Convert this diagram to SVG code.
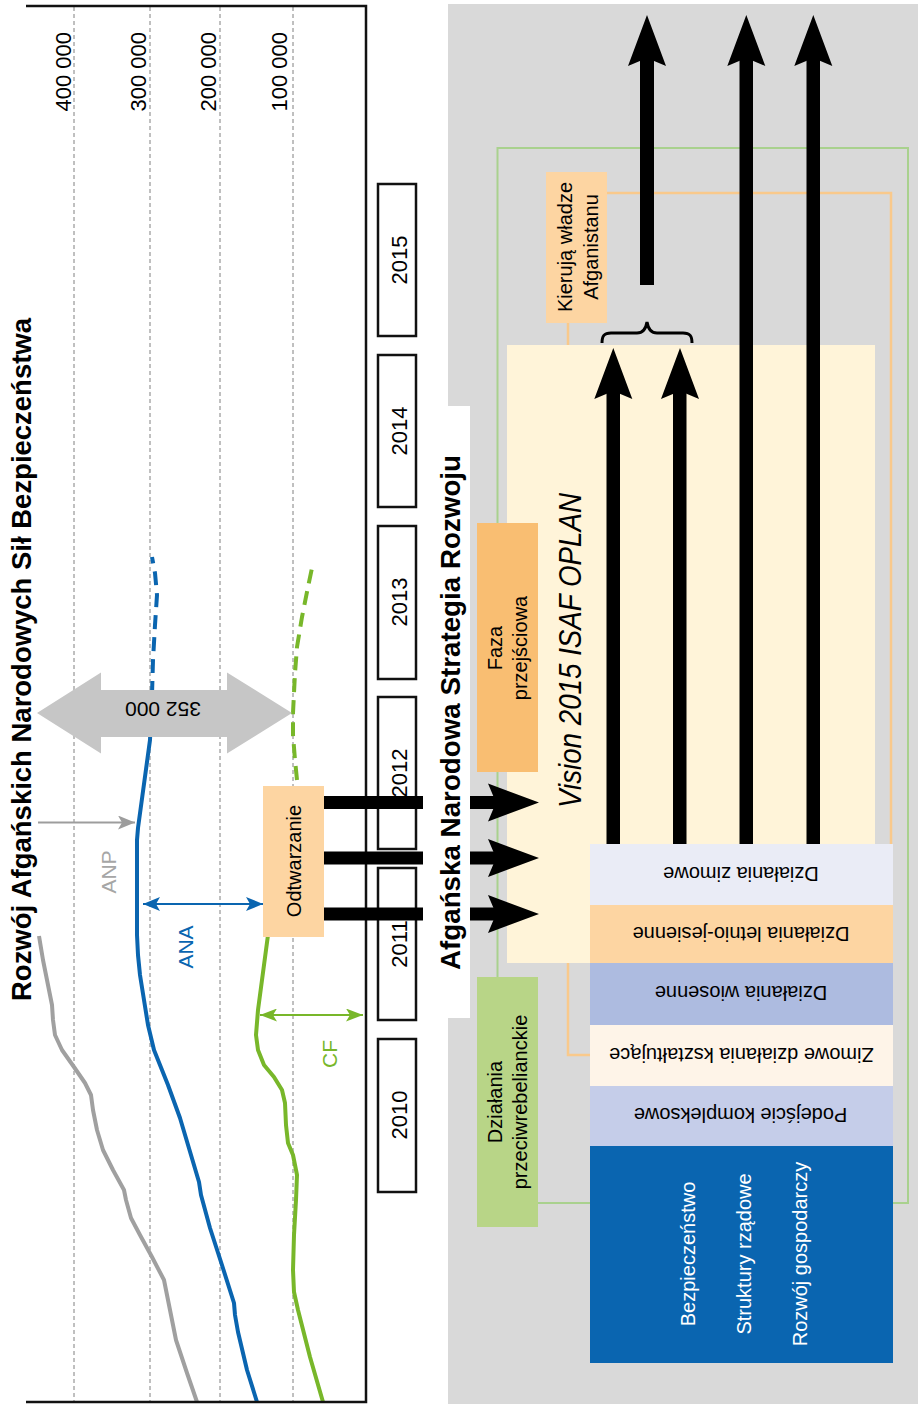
<svg xmlns="http://www.w3.org/2000/svg" width="918" height="1404" viewBox="0 0 918 1404">
<style>
text{font-family:"Liberation Sans",Arial,sans-serif;}
.lbl{font-size:22px;fill:#000;}
.box{font-size:20px;fill:#000;}
.yr{fill:#fff;stroke:#111;stroke-width:2.5;}
.grid{stroke:#808080;stroke-width:1;stroke-dasharray:4 3;fill:none;}
.curve{fill:none;stroke-width:4;stroke-linejoin:round;stroke-linecap:butt;}
.dash{stroke-dasharray:14 8;}
.thick{fill:#000;}
</style>
<defs>
<path id="head" d="M0,0 L19,51 L0,43 L-19,51 Z"/>
<marker id="mGray" viewBox="0 0 17 14" refX="17" refY="7" markerWidth="17" markerHeight="14" markerUnits="userSpaceOnUse" orient="auto-start-reverse"><path d="M0,0 L17,7 L0,14 L4,7 Z" fill="#9d9d9d"/></marker>
<marker id="mBlue" viewBox="0 0 17 14" refX="17" refY="7" markerWidth="17" markerHeight="14" markerUnits="userSpaceOnUse" orient="auto-start-reverse"><path d="M0,0 L17,7 L0,14 L4,7 Z" fill="#0a65b0"/></marker>
<marker id="mGreen" viewBox="0 0 17 13" refX="17" refY="6.5" markerWidth="17" markerHeight="13" markerUnits="userSpaceOnUse" orient="auto-start-reverse"><path d="M0,0 L17,6.5 L0,13 L4,6.5 Z" fill="#78b72a"/></marker>
</defs>
<rect width="918" height="1404" fill="#fff"/>

<!-- right panel background -->
<rect id="panel-bg" x="448" y="4" width="470" height="1400" fill="#d9d9d9"/>

<!-- chart grid -->
<g id="grid">
<line class="grid" x1="74" y1="7" x2="74" y2="1401"/>
<line class="grid" x1="150" y1="7" x2="150" y2="1401"/>
<line class="grid" x1="220" y1="7" x2="220" y2="1401"/>
<line class="grid" x1="293" y1="7" x2="293" y2="1401"/>
</g>
<g id="axis-labels" class="lbl">
<text transform="translate(71,32) rotate(-90)" text-anchor="end">400 000</text>
<text transform="translate(146,32) rotate(-90)" text-anchor="end">300 000</text>
<text transform="translate(216,32) rotate(-90)" text-anchor="end">200 000</text>
<text transform="translate(287,32) rotate(-90)" text-anchor="end">100 000</text>
</g>

<!-- curves -->
<g id="curves">
<path id="curve-total" class="curve" stroke="#a0a0a0" d="M197,1402 L187,1373 L176,1340 L168,1300 L164,1280 L152,1257 L140,1235 L131,1218 L126,1200 L124,1190 L113,1170 L103,1150 L97,1130 L93,1110 L91,1095 L85,1083 L74,1067 L62,1050 L55,1035 L53,1020 L52,1005 L47,980 L43,960 L39,936"/>
<path id="curve-ana" class="curve" stroke="#0a65b0" d="M257,1402 L247,1370 L238,1332 L235,1315 L234,1303 L221,1262 L210,1228 L201,1195 L199,1182 L191,1155 L180,1118 L168,1085 L162,1070 L154,1050 L148,1025 L144,1000 L140,975 L138,955 L137,935 L137,840 L138,828 L150,740 L152,690"/>
<path id="curve-ana-plan" class="curve dash" stroke="#0a65b0" d="M152,695 L153,660 L155,625 L157,595 L155,573 L152,557"/>
<path id="curve-cf" class="curve" stroke="#78b72a" d="M323,1402 L310,1357 L298,1310 L294,1292 L293,1270 L294,1235 L296,1200 L297,1175 L293,1155 L288,1143 L286,1125 L285,1103 L282,1090 L274,1077 L264,1065 L258,1050 L256,1035 L258,1010 L262,980 L266,950 L270,920 L275,880"/>
<path id="curve-cf-plan" class="curve dash" stroke="#78b72a" d="M297,780 L295,760 L293,735 L293,713 L295,673 L297,647 L302,617 L308,587 L312,568"/>
</g>

<!-- 352 000 double arrow -->
<g id="node-352000">
<path d="M37,713 L101,672.5 L101,690 L227,690 L227,672.5 L292,713 L227,753.5 L227,737 L101,737 L101,753.5 Z" fill="#c6c6c6"/>
<text transform="translate(163,709) rotate(180)" y="7.5" text-anchor="middle" font-size="21" fill="#000">352 000</text>
</g>

<!-- Odtwarzanie -->
<g id="node-odtwarzanie">
<rect x="263" y="786" width="61" height="151" fill="#fdd5a2"/>
<text class="box" transform="translate(301,861) rotate(-90)" text-anchor="middle">Odtwarzanie</text>
</g>

<!-- series labels -->
<g id="node-anp"><text transform="translate(116,872) rotate(-90)" text-anchor="middle" font-size="21" fill="#a6a6a6">ANP</text></g>
<g id="node-ana"><text transform="translate(193,947) rotate(-90)" text-anchor="middle" font-size="21" fill="#0a65b0">ANA</text></g>
<g id="node-cf"><text transform="translate(337,1054) rotate(-90)" text-anchor="middle" font-size="21" fill="#78b72a">CF</text></g>

<!-- title 1 -->
<g id="title-ansf">
<text transform="translate(31,1001) rotate(-90)" font-size="27.5" font-weight="bold" textLength="683" lengthAdjust="spacingAndGlyphs">Rozwój Afgańskich Narodowych Sił Bezpieczeństwa</text>
</g>

<!-- frame -->
<path id="frame" d="M26,6 H366 V1402 H26" fill="none" stroke="#111" stroke-width="2.5"/>

<!-- year boxes -->
<g id="year-2015"><rect class="yr" x="378" y="184" width="38" height="152"/><text class="lbl" transform="translate(407,260) rotate(-90)" text-anchor="middle">2015</text></g>
<g id="year-2014"><rect class="yr" x="378" y="355" width="38" height="152"/><text class="lbl" transform="translate(407,431) rotate(-90)" text-anchor="middle">2014</text></g>
<g id="year-2013"><rect class="yr" x="378" y="526" width="38" height="153"/><text class="lbl" transform="translate(407,602) rotate(-90)" text-anchor="middle">2013</text></g>
<g id="year-2012"><rect class="yr" x="378" y="697" width="38" height="152"/><text class="lbl" transform="translate(407,773) rotate(-90)" text-anchor="middle">2012</text></g>
<g id="year-2011"><rect class="yr" x="378" y="868" width="38" height="152"/><text class="lbl" transform="translate(407,944) rotate(-90)" text-anchor="middle">2011</text></g>
<g id="year-2010"><rect class="yr" x="378" y="1039" width="38" height="153"/><text class="lbl" transform="translate(407,1115) rotate(-90)" text-anchor="middle">2010</text></g>

<!-- right panel frames -->
<rect id="frame-green" x="497.5" y="148" width="410.5" height="1055" fill="none" stroke="#a9d18e" stroke-width="2"/>
<rect id="frame-orange" x="568" y="193" width="323" height="862" fill="none" stroke="#f9c98b" stroke-width="2.5"/>

<!-- Vision region -->
<g id="node-vision">
<rect x="507" y="345" width="368" height="618" fill="#fff4d9"/>
<text transform="translate(581,808) rotate(-90)" font-size="31" font-style="italic" textLength="315" lengthAdjust="spacingAndGlyphs">Vision 2015 ISAF OPLAN</text>
</g>

<g id="node-kieruja">
<rect x="546" y="172" width="61" height="151" fill="#fdd5a2"/>
<text class="box" transform="translate(572,247) rotate(-90)" text-anchor="middle">Kierują władze</text>
<text class="box" transform="translate(598,247) rotate(-90)" text-anchor="middle">Afganistanu</text>
</g>

<g id="node-faza">
<rect x="477" y="523" width="61" height="249" fill="#f9be72"/>
<text class="box" transform="translate(502,648) rotate(-90)" text-anchor="middle">Faza</text>
<text class="box" transform="translate(527,648) rotate(-90)" text-anchor="middle">przejściowa</text>
</g>

<g id="node-przeciw">
<rect x="477" y="977" width="61" height="250" fill="#b8d587"/>
<text class="box" transform="translate(502,1102) rotate(-90)" text-anchor="middle">Działania</text>
<text class="box" transform="translate(527,1102) rotate(-90)" text-anchor="middle">przeciwrebelianckie</text>
</g>

<!-- connectors -->
<g id="connectors">
<line x1="38" y1="822.5" x2="135" y2="822.5" stroke="#9d9d9d" stroke-width="2" marker-end="url(#mGray)"/>
<line x1="143" y1="904" x2="263" y2="904" stroke="#0a65b0" stroke-width="2" marker-start="url(#mBlue)" marker-end="url(#mBlue)"/>
<line x1="260" y1="1015" x2="363" y2="1015" stroke="#78b72a" stroke-width="2" marker-start="url(#mGreen)" marker-end="url(#mGreen)"/>

<g class="thick">
<rect x="324" y="796" width="176" height="13"/>
<rect x="324" y="851.5" width="176" height="13"/>
<rect x="324" y="907.5" width="176" height="13"/>
<use href="#head" transform="translate(539,802.5) rotate(90)"/>
<use href="#head" transform="translate(539,858) rotate(90)"/>
<use href="#head" transform="translate(539,914) rotate(90)"/>

<rect x="640" y="55" width="14" height="230"/>
<use href="#head" transform="translate(647,15)"/>
<rect x="739.5" y="55" width="13.5" height="795"/>
<use href="#head" transform="translate(746.3,15)"/>
<rect x="806.5" y="55" width="13.5" height="795"/>
<use href="#head" transform="translate(813.3,15)"/>
<rect x="606.5" y="388" width="13.5" height="462"/>
<use href="#head" transform="translate(613.3,348)"/>
<rect x="673" y="388" width="13.5" height="462"/>
<use href="#head" transform="translate(680,348)"/>
</g>
<path id="brace" d="M602,343 C602,336 604,333 611,333 L637,333 C644,333 646,328 647,322 C648,328 650,333 657,333 L683,333 C690,333 692,336 692,343" fill="none" stroke="#000" stroke-width="3"/>
</g>

<!-- title 2 -->
<g id="title-ands">
<rect x="423" y="406" width="47" height="612" fill="#fff"/>
<text transform="translate(460,970) rotate(-90)" font-size="27.5" font-weight="bold" textLength="515" lengthAdjust="spacingAndGlyphs">Afgańska Narodowa Strategia Rozwoju</text>
</g>

<!-- activity rows -->
<g id="row-zimowe"><rect x="590" y="844" width="303" height="61" fill="#eaecf6"/><text class="box" transform="translate(741,874) rotate(180)" y="7" text-anchor="middle">Działania zimowe</text></g>
<g id="row-letnio"><rect x="590" y="905" width="303" height="58" fill="#fdd5a2"/><text class="box" transform="translate(741,933.5) rotate(180)" y="7" text-anchor="middle">Działania letnio-jesienne</text></g>
<g id="row-wiosenne"><rect x="590" y="963" width="303" height="62" fill="#adbbe0"/><text class="box" transform="translate(741,993) rotate(180)" y="7" text-anchor="middle">Działania wiosenne</text></g>
<g id="row-ksztaltujace"><rect x="590" y="1025" width="303" height="61" fill="#fef4e8"/><text class="box" transform="translate(741.5,1054.5) rotate(180)" y="7" text-anchor="middle">Zimowe działania kształtujące</text></g>
<g id="row-kompleksowe"><rect x="590" y="1086" width="303" height="60" fill="#c5cde9"/><text class="box" transform="translate(740.5,1115) rotate(180)" y="7" text-anchor="middle">Podejście kompleksowe</text></g>
<g id="node-lines">
<rect x="590" y="1146" width="303" height="217" fill="#0a65b0"/>
<text class="box" fill="#fff" style="fill:#fff" transform="translate(695,1254) rotate(-90)" text-anchor="middle">Bezpieczeństwo</text>
<text class="box" style="fill:#fff" transform="translate(751,1254) rotate(-90)" text-anchor="middle">Struktury rządowe</text>
<text class="box" style="fill:#fff" transform="translate(807,1254) rotate(-90)" text-anchor="middle">Rozwój gospodarczy</text>
</g>
</svg>
